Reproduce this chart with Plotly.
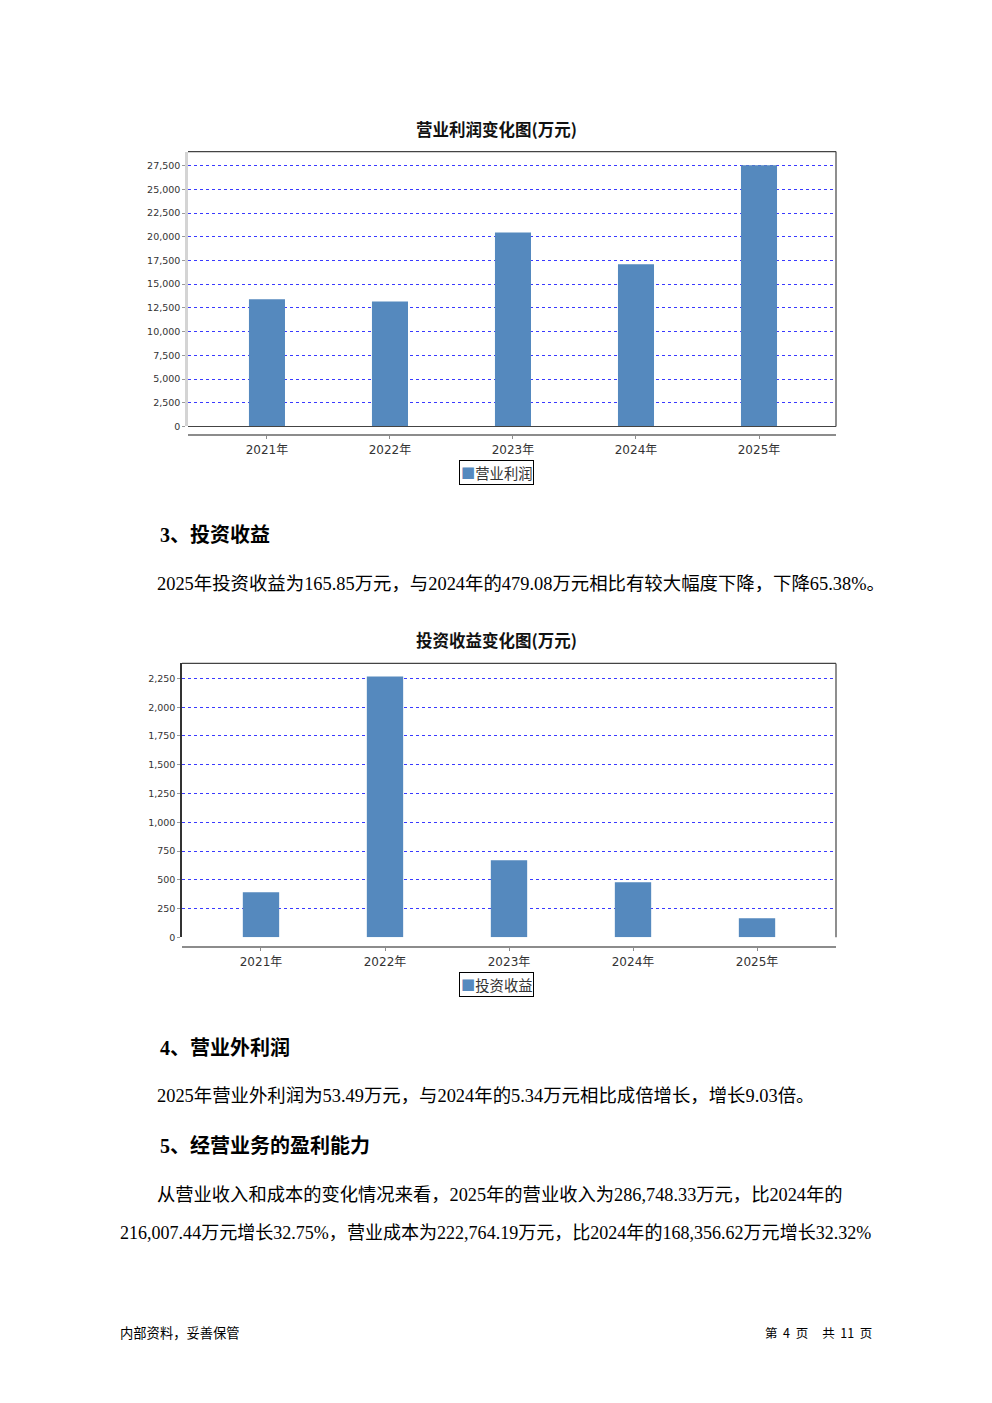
import plotly.graph_objects as go

W, H = 992, 1403
OFF = 8  # browser body margin
PAD = 2  # annotation inner padding

years = ["2021年", "2022年", "2023年", "2024年", "2025年"]
op_profit = [13400, 13180, 20450, 17100, 27530]
inv_income = [391, 2267, 669, 479.08, 165.85]

title1 = "营业利润变化图(万元)"
title2 = "投资收益变化图(万元)"
name1 = "营业利润"
name2 = "投资收益"

BAR = "#5589BE"
GRID = "#3a3aff"
CN = "Noto Sans CJK SC"
SERIF = "Liberation Serif, Noto Sans CJK SC"
TICKF = "DejaVu Sans, Noto Sans CJK SC"


def fx(x):
    return (x - OFF) / W


def fy(y):
    return 1 - (y - OFF + 4 * (y - 129) / 1204) / H


fig = go.Figure()
fig.add_trace(go.Bar(x=list(range(5)), y=op_profit, name=name1, marker_color=BAR,
                     marker_line_width=0, xaxis="x", yaxis="y", showlegend=False))
fig.add_trace(go.Bar(x=list(range(5)), y=inv_income, name=name2, marker_color=BAR,
                     marker_line_width=0, xaxis="x2", yaxis="y2", showlegend=False))

xcommon = dict(tickmode="array", tickvals=list(range(5)), ticktext=years,
               showline=True, linecolor="#8c8c8c", linewidth=1.5,
               ticks="outside", ticklen=3, tickcolor="#8c8c8c",
               showgrid=False, zeroline=False,
               tickfont=dict(family=TICKF, size=12, color="#333333"))
ycommon = dict(ticks="outside", ticklen=3, tickcolor="#9a9a9a", tickformat=",d",
               showgrid=True, gridcolor=GRID, griddash="dot", gridwidth=1,
               zeroline=False, tickfont=dict(family=TICKF, size=9.5, color="#333333"))

fig.update_layout(
    width=W, height=H, margin=dict(l=0, r=0, t=0, b=0),
    paper_bgcolor="white", plot_bgcolor="white",
    bargap=0.707, showlegend=False,
    xaxis=dict(domain=[fx(188), fx(836)], range=[-0.642, 4.626], anchor="free",
               position=fy(436), **xcommon),
    yaxis=dict(domain=[fy(427), fy(152)], range=[0, 28975], dtick=2500,
               anchor="x", showline=True, linecolor="#d4d4d4", linewidth=2.5, **ycommon),
    xaxis2=dict(domain=[fx(182), fx(836)], range=[-0.637, 4.637], anchor="free",
                position=fy(948), **xcommon),
    yaxis2=dict(domain=[fy(938), fy(664)], range=[0, 2380], dtick=250,
                anchor="x2", showline=True, linecolor="#333333", linewidth=1.5, **ycommon),
)

shapes = []
for ax in ("", "2"):
    shapes.append(dict(type="line", xref=f"x{ax} domain", yref=f"y{ax} domain",
                       x0=0, x1=1, y0=1, y1=1, line=dict(color="#444444", width=1.2)))
    shapes.append(dict(type="line", xref=f"x{ax} domain", yref=f"y{ax} domain",
                       x0=1, x1=1, y0=0, y1=1, line=dict(color="#444444", width=1.2)))
shapes.append(dict(type="line", xref="x domain", yref="y domain",
                   x0=0, x1=1, y0=0, y1=0, line=dict(color="#444444", width=1.2)))
fig.update_layout(shapes=shapes)

ann = []
for t, yy in ((title1, 129), (title2, 641)):
    ann.append(dict(text=f"<b>{t}</b>", x=fx(496), y=fy(yy), xref="paper", yref="paper",
                    xanchor="center", yanchor="middle", showarrow=False,
                    font=dict(family=CN, size=16.5, color="#111111")))
for nm, yy in ((name1, 473), (name2, 985)):
    ann.append(dict(text=f"<span style='color:{BAR}'>■</span>{nm}", x=fx(496), y=fy(yy),
                    xref="paper", yref="paper", xanchor="center", yanchor="middle",
                    showarrow=False, bordercolor="#000000", borderwidth=1, borderpad=1,
                    bgcolor="white", font=dict(family=CN, size=14.3, color="#333333")))

body = [
    ("<b>3、投资收益</b>", 160, 536, 20),
    ("2025年投资收益为165.85万元，与2024年的479.08万元相比有较大幅度下降，下降65.38%。", 157, 585, 18.4),
    ("<b>4、营业外利润</b>", 160, 1048, 20),
    ("2025年营业外利润为53.49万元，与2024年的5.34万元相比成倍增长，增长9.03倍。", 157, 1097, 18.4),
    ("<b>5、经营业务的盈利能力</b>", 160, 1147, 20),
    ("从营业收入和成本的变化情况来看，2025年的营业收入为286,748.33万元，比2024年的", 157, 1196, 18.3),
    ("216,007.44万元增长32.75%，营业成本为222,764.19万元，比2024年的168,356.62万元增长32.32%", 120, 1234, 18.05),
]
for t, x, y, s in body:
    ann.append(dict(text=t, x=fx(x - PAD), y=fy(y), xref="paper", yref="paper",
                    xanchor="left", yanchor="middle", showarrow=False,
                    font=dict(family=SERIF, size=s, color="#000000")))

NB = "\u00a0"
ann.append(dict(text="内部资料，妥善保管", x=fx(120 - PAD), y=fy(1333), xref="paper", yref="paper",
                xanchor="left", yanchor="middle", showarrow=False,
                font=dict(family=CN, size=13.3, color="#000000")))
ann.append(dict(text=f"第{NB*2}4{NB*2}页{NB*5}共{NB*2}11{NB*2}页", x=fx(872 + PAD), y=fy(1333),
                xref="paper", yref="paper", xanchor="right", yanchor="middle", showarrow=False,
                font=dict(family=CN, size=12.5, color="#000000")))

fig.update_layout(annotations=ann)
fig.write_html("out.html")
